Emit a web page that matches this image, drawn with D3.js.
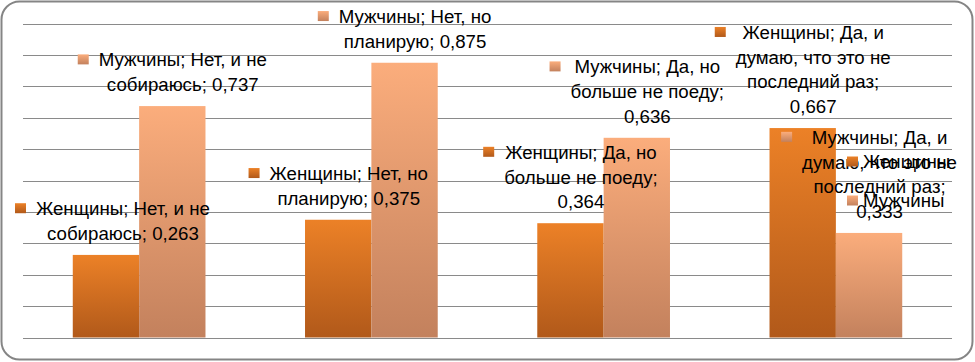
<!DOCTYPE html>
<html><head><meta charset="utf-8">
<script src="https://cdn.jsdelivr.net/npm/d3@7"></script>
<style>
html,body{margin:0;padding:0;background:#fff;}
svg{display:block;font-family:"Liberation Sans",Arial,sans-serif;}
</style></head><body>
<svg id="chart" width="975" height="362"></svg>
<script>
const categories = [
  'Нет, и не собираюсь',
  'Нет, но планирую',
  'Да, но больше не поеду',
  'Да, и думаю, что это не последний раз'
];
const seriesNames = ['Женщины', 'Мужчины'];
const women = [0.263, 0.375, 0.364, 0.667];
const men = [0.737, 0.875, 0.636, 0.333];
const gridTicks = d3.range(0, 11).map((i) => i / 10);

const W = 975;
const H = 362;
const PLOT = { left: 23, right: 952, top: 23.5, bottom: 337.5 };
const FONT_SIZE = 18.67;
const LINE_H = 24.7;
const WRAP_W = 183;
const MARK_W = 11;
const MARK_H = 10;
const MARK_GAP = 10;

// Office "orange" gradients, top -> bottom
const GRAD = {
  'Женщины': ['#ec8127', '#b1591a'],
  'Мужчины': ['#fbad7c', '#c3815d']
};

const values = { 'Женщины': women, 'Мужчины': men };
const rows = [];
seriesNames.forEach((s) => {
  categories.forEach((c, i) => rows.push({ series: s, category: c, value: values[s][i] }));
});

const svg = d3.select('#chart');
const defs = svg.append('defs');
seriesNames.forEach((s, i) => {
  const g = defs.append('linearGradient')
    .attr('id', `grad${i}`)
    .attr('x1', 0).attr('y1', 0).attr('x2', 0).attr('y2', 1);
  g.append('stop').attr('offset', '0%').attr('stop-color', GRAD[s][0]);
  g.append('stop').attr('offset', '100%').attr('stop-color', GRAD[s][1]);
});
const fillOf = (s) => `url(#grad${seriesNames.indexOf(s)})`;

// chart border
svg.append('rect')
  .attr('x', 1.5).attr('y', 1.5)
  .attr('width', W - 4).attr('height', H - 4)
  .attr('rx', 18).attr('ry', 18)
  .attr('fill', '#fff')
  .attr('stroke', '#858585')
  .attr('stroke-width', 2);

const x0 = d3.scaleBand().domain(categories).range([PLOT.left, PLOT.right]);
// gap width 150%: bar = band / 3.5
const barW = x0.bandwidth() / 3.5;
const x1 = d3.scaleBand().domain(seriesNames).range([0.75 * barW, 2.75 * barW]);
const y = d3.scaleLinear().domain([0, 1]).range([PLOT.bottom, PLOT.top]);

svg.append('g')
  .selectAll('line')
  .data(gridTicks)
  .join('line')
  .attr('x1', PLOT.left).attr('x2', PLOT.right)
  .attr('y1', (d) => Math.round(y(d)) + 0.5)
  .attr('y2', (d) => Math.round(y(d)) + 0.5)
  .attr('stroke', '#8a8a8a')
  .attr('stroke-width', 1);

svg.append('g')
  .selectAll('rect')
  .data(rows)
  .join('rect')
  .attr('x', (d) => x0(d.category) + x1(d.series))
  .attr('y', (d) => y(d.value))
  .attr('width', x1.bandwidth())
  .attr('height', (d) => y(0) - y(d.value))
  .attr('fill', (d) => fillOf(d.series));

// measuring helper for wrapping, removed once labels are laid out
const probe = svg.append('text').attr('x', 0).attr('y', 0)
  .style('font-size', `${FONT_SIZE}px`).attr('visibility', 'hidden');
const measure = (s) => probe.text(s).node().getComputedTextLength();

function wrap(str) {
  const words = str.split(' ');
  const lines = [];
  let cur = '';
  words.forEach((w) => {
    const next = cur ? `${cur} ${w}` : w;
    if (cur && measure(next) > WRAP_W) {
      lines.push(cur);
      cur = w;
    } else cur = next;
  });
  lines.push(cur);
  return lines;
}

const fmt = (v) => d3.format('.3f')(v).replace('.', ',');

const labels = svg.append('g');
rows.forEach((d) => {
  const lines = wrap(`${d.series}; ${d.category}; ${fmt(d.value)}`);
  const textW = d3.max(lines, measure);
  const blockW = MARK_W + MARK_GAP + textW;
  const cx = x0(d.category) + x1(d.series) + x1.bandwidth() / 2;
  const left = Math.max(15, cx - blockW / 2);
  const textCx = left + MARK_W + MARK_GAP + textW / 2;
  const lastBase = y(d.value) - 15;
  const firstBase = lastBase - (lines.length - 1) * LINE_H;

  labels.append('rect')
    .attr('x', left)
    .attr('y', firstBase - 12)
    .attr('width', MARK_W)
    .attr('height', MARK_H)
    .attr('fill', fillOf(d.series));

  labels.append('text')
    .attr('text-anchor', 'middle')
    .style('font-size', `${FONT_SIZE}px`)
    .attr('fill', '#000')
    .selectAll('tspan')
    .data(lines)
    .join('tspan')
    .attr('x', textCx)
    .attr('y', (_, i) => firstBase + i * LINE_H)
    .text((t) => t);
});
probe.remove();

// legend (right, vertically centred on the chart)
const legend = svg.append('g')
  .selectAll('g')
  .data(seriesNames)
  .join('g')
  .attr('transform', (_, i) => `translate(847, ${H / 2 - 19.5 + i * 39})`);

legend.append('rect')
  .attr('x', 0).attr('y', -5)
  .attr('width', MARK_W).attr('height', MARK_H)
  .attr('fill', (d) => fillOf(d));

legend.append('text')
  .attr('x', 16)
  .attr('y', 6)
  .style('font-size', `${FONT_SIZE}px`)
  .attr('fill', '#000')
  .text((d) => d);
</script>
</body></html>
